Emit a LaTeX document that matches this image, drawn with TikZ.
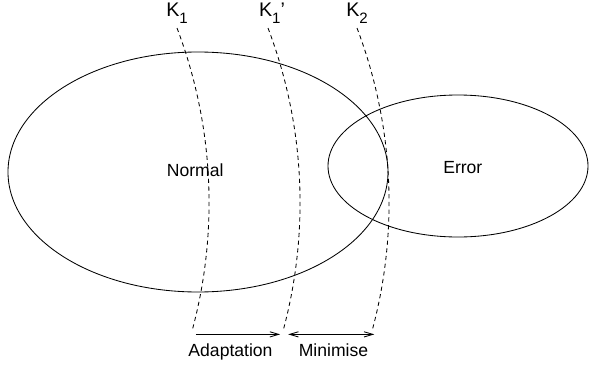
\documentclass[tikz,border=0pt]{standalone}
\usepackage{fontspec}
\setmainfont{Liberation Sans}
\usetikzlibrary{arrows.meta, positioning, calc, shapes.geometric}

% lowered index for the threshold names
\newcommand{\ksub}[1]{\raisebox{-0.17cm}{\fontsize{10.7}{12}\selectfont #1}}

\begin{document}
\begin{tikzpicture}[
    >={Straight Barb[length=2.2mm, width=1.3mm]},
    region/.style={draw, ellipse, line width=0.6pt, inner sep=0pt},
    regiontext/.style={font=\fontsize{12.5}{14}\selectfont},
    boundary/.style={line width=0.6pt, dash pattern=on 3pt off 2.5pt},
    klabel/.style={inner sep=0pt, font=\fontsize{14}{16}\selectfont},
    arrow/.style={line width=0.6pt},
    caption/.style={anchor=base, inner sep=0pt, font=\fontsize{12.5}{14}\selectfont}
]
\useasboundingbox (0,0) rectangle (14.725,9.2);

% Regions
\node[region, minimum width=9.5cm, minimum height=6cm] (normal) at (4.95,4.9) {};
\node[region, minimum width=6.5cm, minimum height=3.55cm] (error) at (11.45,5.05) {};
\node[regiontext] (normaltxt) at ([xshift=-0.07cm, yshift=0.05cm]normal.center) {Normal};
\node[regiontext] (errortxt) at ([xshift=0.12cm, yshift=-0.05cm]error.center) {Error};

% Tops of the thresholds
\coordinate (t1) at (4.425,8.5);
\coordinate (t1p) at (6.7,8.5);
\coordinate (t2) at (8.925,8.5);

% Threshold names
\node[klabel, above=0.1cm of t1] (k1) {K\ksub{1}};
\node[klabel, above=0.1cm of t1p, xshift=0.1cm] (k1p) {K\ksub{1}'};
\node[klabel, above=0.1cm of t2] (k2) {K\ksub{2}};

% Dashed thresholds
\draw[boundary] (t1) arc[start angle=20.8, end angle=-14.8, radius=12.3cm] coordinate (b1);
\draw[boundary] (t1p) arc[start angle=20.8, end angle=-14.8, radius=12.3cm] coordinate (b1p);
\draw[boundary] (t2) arc[start angle=20.8, end angle=-14.8, radius=12.3cm] coordinate (b2);

% Shifts between thresholds
\coordinate (a1) at ($(b1)+(0.08,-0.15)$);
\coordinate (a2) at ($(b1p)+(-0.09,-0.15)$);
\coordinate (a3) at ($(b1p)+(0.11,-0.15)$);
\coordinate (a4) at ($(b2)+(0.04,-0.15)$);
\draw[arrow, ->] (a1) -- (a2);
\draw[arrow, <->] (a3) -- (a4);

\node[caption] (adapt) at (5.7625,0.3) {Adaptation};
\node[caption] (minim) at (8.3375,0.3) {Minimise};

\end{tikzpicture}
\end{document}
